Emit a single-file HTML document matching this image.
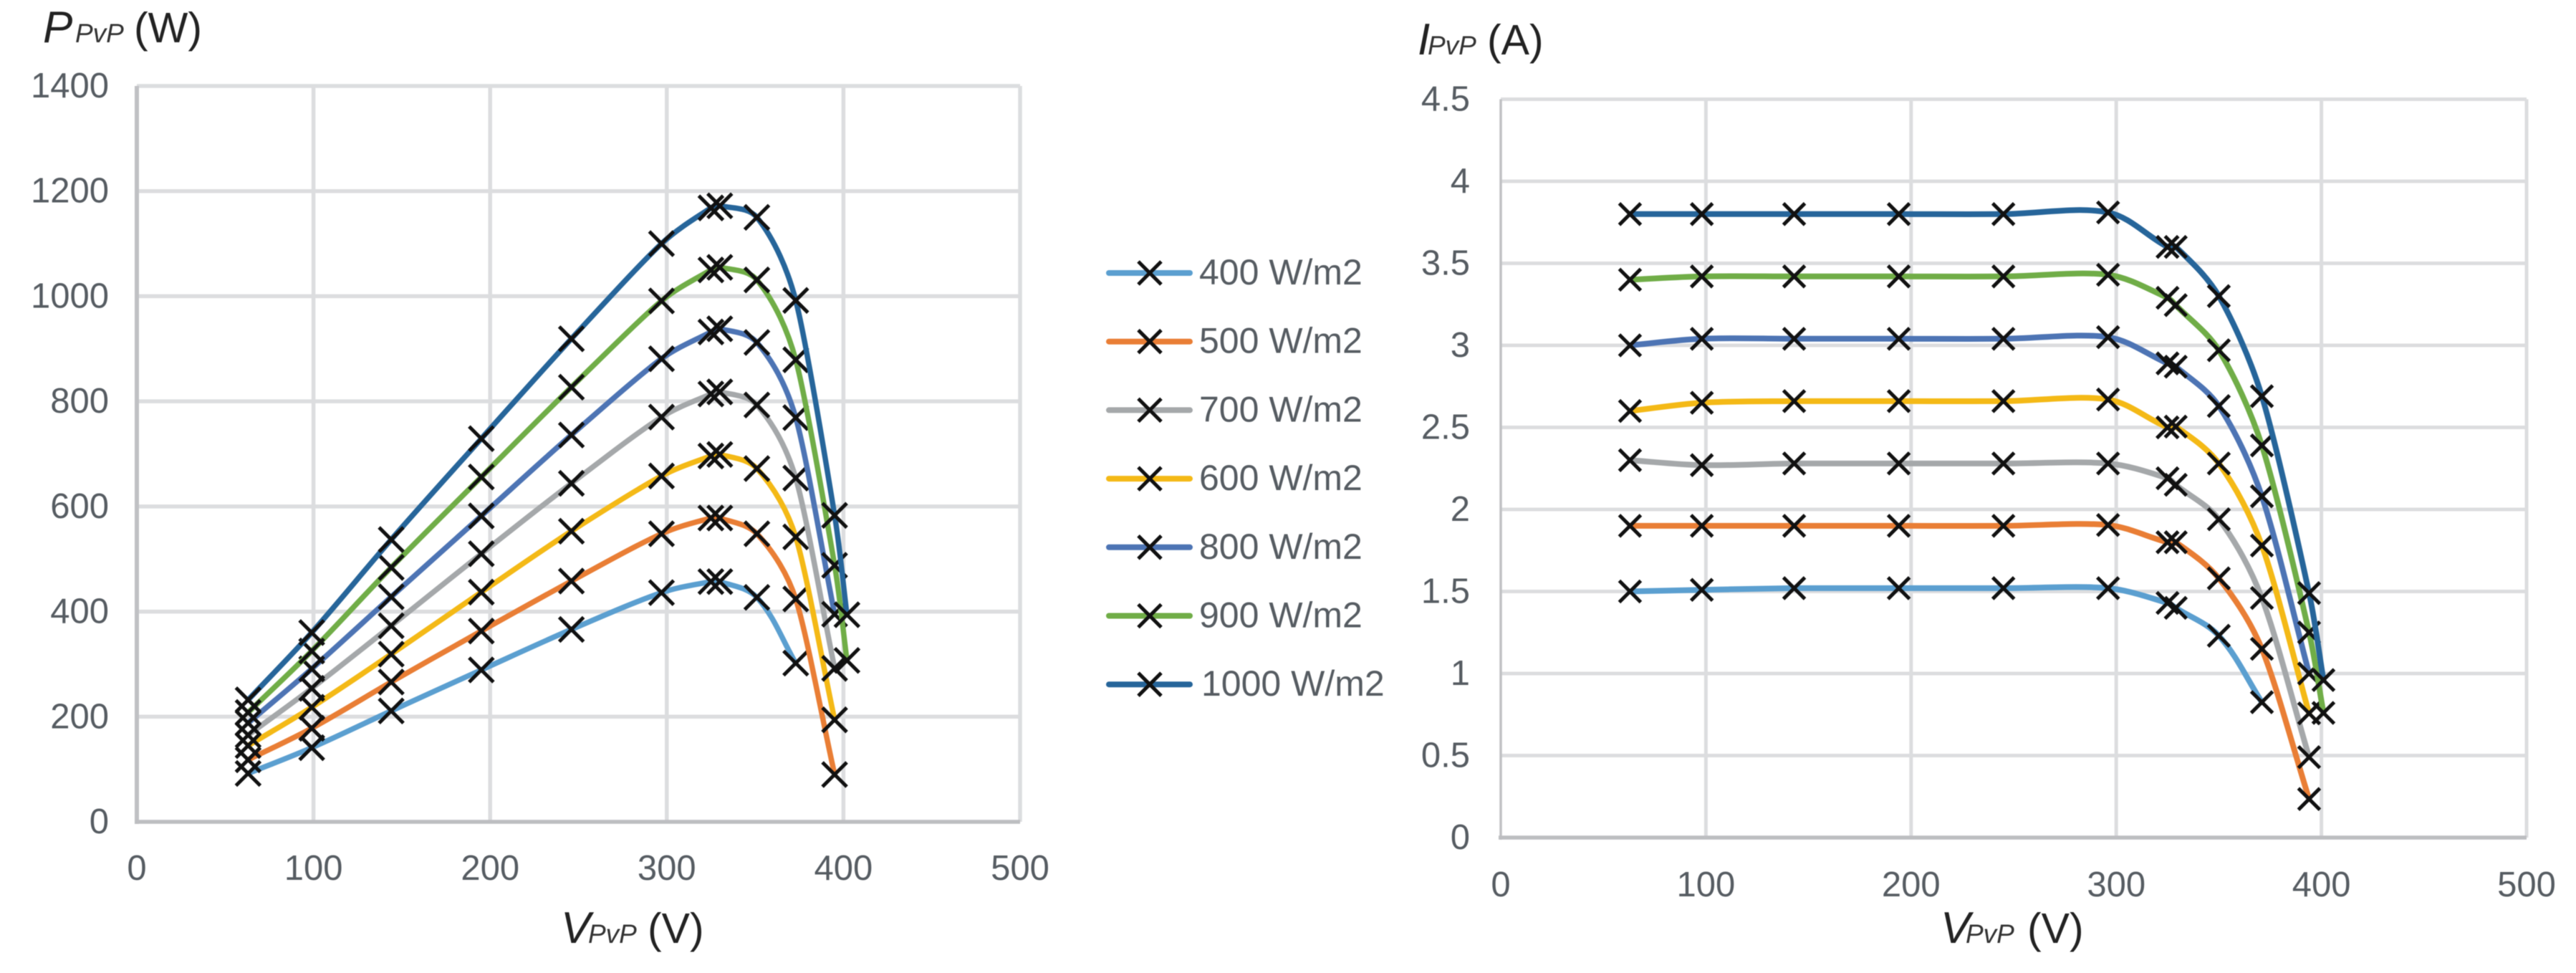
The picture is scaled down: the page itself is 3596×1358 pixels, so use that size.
<!DOCTYPE html>
<html lang="en">
<head>
<meta charset="utf-8">
<title>PV power and current curves</title>
<style>
html,body{margin:0;padding:0;background:#fff;width:3596px;height:1358px;overflow:hidden}
svg{display:block;filter:blur(0.6px)}
text{font-family:"Liberation Sans",sans-serif}
.tick{font-size:49px;fill:#565c62}
.legend{font-size:50px;fill:#565c62}
.title{font-size:59px;fill:#222}
.sym{font-size:62px;font-style:italic;fill:#222}
.sub{font-size:37px;font-style:italic;fill:#333}
</style>
</head>
<body>
<svg id="root" xmlns="http://www.w3.org/2000/svg" width="3596" height="1358" viewBox="0 0 3596 1358">
  <rect width="3596" height="1358" fill="#fff"/>
  <g id="power-chart"></g>
  <g id="current-chart"></g>
  <g id="legend"></g>
  <text y="59"><tspan class="sym" x="60">P</tspan><tspan class="sub" x="105">PvP</tspan><tspan class="title" x="187">(W)</tspan></text>
  <text y="1316"><tspan class="sym" x="783">V</tspan><tspan class="sub" x="821">PvP</tspan><tspan class="title" x="904">(V)</tspan></text>
  <text y="76"><tspan class="sym" x="1979">I</tspan><tspan class="sub" x="1993">PvP</tspan><tspan class="title" x="2076">(A)</tspan></text>
  <text y="1316"><tspan class="sym" x="2709">V</tspan><tspan class="sub" x="2744">PvP</tspan><tspan class="title" x="2830">(V)</tspan></text>
</svg>
<script>
// ---- shared ticks ----
const voltageTicks = [0, 100, 200, 300, 400, 500];
const powerTicks = [0, 200, 400, 600, 800, 1000, 1200, 1400];
const currentTicks = [0, 0.5, 1, 1.5, 2, 2.5, 3, 3.5, 4, 4.5];

// ---- legend ----
const legendLabels = ['400 W/m2', '500 W/m2', '700 W/m2', '600 W/m2', '800 W/m2', '900 W/m2', '1000 W/m2'];
const legendColors = ['#5b9fd0', '#e97e35', '#a5a8aa', '#f4b916', '#4d74b4', '#70ad47', '#26659a'];

// ---- power chart data (V, W) ----
const powerVoltage = [63, 99, 144, 195, 246, 297, 325, 330, 351, 373, 395, 402];
const powerLight  = [92, 141, 211, 289, 366, 436, 457, 457, 427, 302];
const powerOrange = [118, 178, 266, 363, 458, 548, 578, 578, 548, 424, 90];
const powerYellow = [145, 218, 319, 437, 553, 658, 696, 699, 672, 542, 194];
const powerGrey   = [165, 254, 373, 510, 644, 770, 814, 818, 793, 654, 292];
const powerBlue   = [188, 291, 428, 582, 736, 881, 932, 938, 912, 769, 395];
const powerGreen  = [208, 325, 484, 656, 827, 991, 1050, 1055, 1031, 879, 488, 307];
const powerDark   = [232, 360, 537, 729, 919, 1100, 1168, 1172, 1150, 992, 583, 394];

// ---- current chart data (V, A) ----
const currentVoltage = [63, 98, 143, 194, 245, 296, 325, 329, 350, 371, 394, 401];
const currentLight  = [1.50, 1.51, 1.52, 1.52, 1.52, 1.52, 1.43, 1.40, 1.23, 0.825];
const currentOrange = [1.90, 1.90, 1.90, 1.90, 1.90, 1.905, 1.80, 1.80, 1.58, 1.15, 0.235];
const currentGrey   = [2.30, 2.27, 2.28, 2.28, 2.28, 2.28, 2.19, 2.15, 1.94, 1.46, 0.49];
const currentYellow = [2.60, 2.65, 2.66, 2.66, 2.66, 2.67, 2.50, 2.505, 2.28, 1.78, 0.757];
const currentBlue   = [3.00, 3.04, 3.04, 3.04, 3.04, 3.05, 2.89, 2.87, 2.63, 2.08, 1.00];
const currentGreen  = [3.40, 3.42, 3.42, 3.42, 3.42, 3.43, 3.29, 3.245, 2.97, 2.39, 1.25, 0.76];
const currentDark   = [3.80, 3.80, 3.80, 3.80, 3.80, 3.81, 3.60, 3.60, 3.30, 2.69, 1.49, 0.96];

const NS = 'http://www.w3.org/2000/svg';
function make(tag, parent, attrs) {
  const el = document.createElementNS(NS, tag);
  for (const k in attrs) el.setAttribute(k, attrs[k]);
  parent.appendChild(el);
  return el;
}

function smoothPath(pts) {
  const tang = pts.map((p, i) => {
    const a = pts[Math.max(i - 1, 0)], b = pts[Math.min(i + 1, pts.length - 1)];
    const dx = b[0] - a[0], dy = b[1] - a[1], len = Math.hypot(dx, dy) || 1;
    return [dx / len, dy / len];
  });
  const segLen = i => (i < 0 || i >= pts.length - 1) ? Infinity : Math.hypot(pts[i + 1][0] - pts[i][0], pts[i + 1][1] - pts[i][1]);
  let d = 'M' + pts[0][0].toFixed(1) + ' ' + pts[0][1].toFixed(1);
  for (let i = 0; i < pts.length - 1; i++) {
    const p = pts[i], q = pts[i + 1], base = segLen(i) / 3;
    const hp = Math.min(base, Math.max(40, 0.45 * segLen(i - 1)));
    const hq = Math.min(base, Math.max(40, 0.45 * segLen(i + 1)));
    d += ' C' + (p[0] + tang[i][0] * hp).toFixed(1) + ' ' + (p[1] + tang[i][1] * hp).toFixed(1) +
         ' ' + (q[0] - tang[i + 1][0] * hq).toFixed(1) + ' ' + (q[1] - tang[i + 1][1] * hq).toFixed(1) +
         ' ' + q[0].toFixed(1) + ' ' + q[1].toFixed(1);
  }
  return d;
}

function drawCross(parent, cx, cy, r) {
  const cross = make('path', parent, {
    d: 'M' + (cx - r) + ' ' + (cy - r) + 'L' + (cx + r) + ' ' + (cy + r) +
       'M' + (cx - r) + ' ' + (cy + r) + 'L' + (cx + r) + ' ' + (cy - r),
    stroke: '#111', 'stroke-width': 5, fill: 'none'
  });
  
  
}

function drawChart(cfg) {
  const g = document.getElementById(cfg.id);
  const x = v => cfg.x0 + (v - voltageTicks[0]) / (voltageTicks[voltageTicks.length - 1] - voltageTicks[0]) * cfg.w;
  const y = v => cfg.y0 - (v - cfg.yTicks[0]) / (cfg.yTicks[cfg.yTicks.length - 1] - cfg.yTicks[0]) * cfg.h;

  cfg.yTicks.forEach((t, i) => {
    if (i > 0) {
      const line = make('line', g, { x1: cfg.x0, x2: cfg.x0 + cfg.w, y1: y(t), y2: y(t), stroke: '#dcdddf', 'stroke-width': cfg.gridW });
      
      
    }
    const label = make('text', g, { x: cfg.yLabelX, y: y(t) + 16, 'text-anchor': 'end', class: 'tick' });
    
    
    label.textContent = t;
  });
  voltageTicks.forEach((t, i) => {
    if (i > 0) {
      const line = make('line', g, { x1: x(t), x2: x(t), y1: cfg.y0 - cfg.h, y2: cfg.y0, stroke: '#dcdddf', 'stroke-width': cfg.gridW });
      
      
    }
    const label = make('text', g, { x: x(t) + cfg.xLabelDx, y: cfg.xLabelY, 'text-anchor': 'middle', class: 'tick' });
    
    
    label.textContent = t;
  });
  const yAxis = make('line', g, { x1: cfg.x0, x2: cfg.x0, y1: cfg.y0 - cfg.h, y2: cfg.y0 + 3, stroke: '#c0c1c4', 'stroke-width': cfg.axisW });
  
  
  const xAxis = make('line', g, { x1: cfg.x0 - 3, x2: cfg.x0 + cfg.w, y1: cfg.y0, y2: cfg.y0, stroke: '#bdbec1', 'stroke-width': 5.5 });
  
  

  cfg.series.forEach(s => {
    const sg = make('g', g, {});
    
    
    const pts = s.values.map((v, i) => [x(cfg.voltage[i]), y(v)]);
    const line = make('path', sg, { d: smoothPath(pts), fill: 'none', stroke: s.color, 'stroke-width': cfg.lineW, 'stroke-linecap': 'round', 'stroke-linejoin': 'round' });
    
    
    pts.forEach(p => drawCross(sg, p[0], p[1], cfg.marker));
  });
}

drawChart({
  id: 'power-chart', x0: 191, w: 1233, y0: 1147, h: 1027, gridW: 5.5, axisW: 6, lineW: 7.5,
  yLabelX: 152, xLabelY: 1228, xLabelDx: 0, marker: 17,
  yTicks: powerTicks, voltage: powerVoltage,
  series: [
    { name: 'light-blue', color: legendColors[0], values: powerLight },
    { name: 'orange', color: legendColors[1], values: powerOrange },
    { name: 'yellow', color: legendColors[3], values: powerYellow },
    { name: 'grey', color: legendColors[2], values: powerGrey },
    { name: 'blue', color: legendColors[4], values: powerBlue },
    { name: 'green', color: legendColors[5], values: powerGreen },
    { name: 'dark-blue', color: legendColors[6], values: powerDark }
  ]
});

drawChart({
  id: 'current-chart', x0: 2095, w: 1432, y0: 1169, h: 1030.5, gridW: 5, axisW: 3.5, lineW: 8,
  yLabelX: 2052, xLabelY: 1251, xLabelDx: 0, marker: 15,
  yTicks: currentTicks, voltage: currentVoltage,
  series: [
    { name: 'light-blue', color: legendColors[0], values: currentLight },
    { name: 'orange', color: legendColors[1], values: currentOrange },
    { name: 'grey', color: legendColors[2], values: currentGrey },
    { name: 'yellow', color: legendColors[3], values: currentYellow },
    { name: 'blue', color: legendColors[4], values: currentBlue },
    { name: 'green', color: legendColors[5], values: currentGreen },
    { name: 'dark-blue', color: legendColors[6], values: currentDark }
  ]
});

(function drawLegend() {
  const g = document.getElementById('legend');
  legendLabels.forEach((name, i) => {
    const cy = 381 + i * 95.7;
    const entry = make('g', g, {});
    
    
    const line = make('line', entry, { x1: 1548, x2: 1661, y1: cy, y2: cy, stroke: legendColors[i], 'stroke-width': 8, 'stroke-linecap': 'round' });
    
    
    drawCross(entry, 1605, cy, 16);
    const label = make('text', entry, { x: i === 6 ? 1677 : 1674, y: cy + 16, class: 'legend' });
    
    
    label.textContent = name;
  });
})();
</script>
</body>
</html>
